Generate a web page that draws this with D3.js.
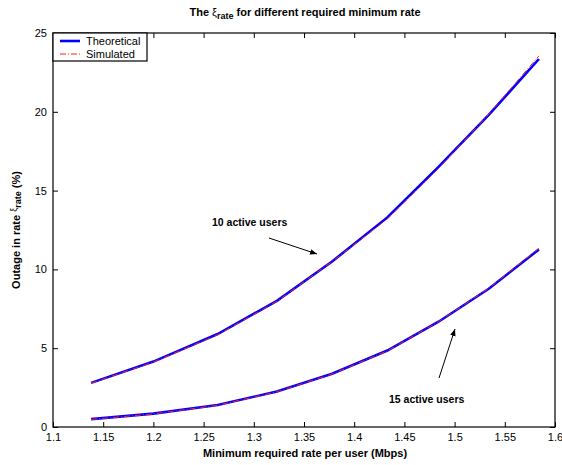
<!DOCTYPE html>
<html><head><meta charset="utf-8">
<script src="https://cdn.jsdelivr.net/npm/d3@7"></script>
<style>body{margin:0;background:#fff;} svg{display:block;font-family:Arial,"Liberation Sans",Helvetica,sans-serif;}</style>
</head><body>
<script>
const rates = [1.138, 1.2, 1.264, 1.323, 1.378, 1.433, 1.484, 1.534, 1.584];
const theo10 = [2.8, 4.15, 5.9, 8.0, 10.5, 13.3, 16.5, 19.8, 23.35];
const sim10  = [2.78, 4.12, 5.85, 7.97, 10.5, 13.2, 16.4, 19.85, 23.55];
const theo15 = [0.5, 0.85, 1.4, 2.25, 3.38, 4.85, 6.68, 8.77, 11.27];
const sim15  = [0.48, 0.83, 1.38, 2.23, 3.36, 4.83, 6.68, 8.8, 11.33];
const xTicks = [1.1, 1.15, 1.2, 1.25, 1.3, 1.35, 1.4, 1.45, 1.5, 1.55, 1.6];
const yTicks = [0, 5, 10, 15, 20, 25];
const legendLabels = ["Theoretical", "Simulated"];
const annotations = ["10 active users", "15 active users"];

const W = 562, H = 465;
const m = {l: 53, r: 7, t: 33, b: 38};
const svg = d3.select("body").append("svg").attr("width", W).attr("height", H);
const x = d3.scaleLinear().domain([1.1, 1.6]).range([m.l, W - m.r]);
const y = d3.scaleLinear().domain([0, 25]).range([H - m.b, m.t]);

// axes with inward ticks
const fmt = d => d3.format("")(+d.toFixed(2));
svg.append("g").attr("transform", `translate(0,${H - m.b})`)
  .call(d3.axisBottom(x).tickValues(xTicks).tickSizeInner(-5).tickSizeOuter(0).tickPadding(6).tickFormat(fmt))
  .call(g => g.selectAll("text").attr("font-size", 11).attr("fill", "#000"));
svg.append("g").attr("transform", `translate(${m.l},0)`)
  .call(d3.axisLeft(y).tickValues(yTicks).tickSizeInner(-5).tickSizeOuter(0).tickPadding(6))
  .call(g => g.selectAll("text").attr("font-size", 11).attr("fill", "#000"));
svg.append("g").attr("transform", `translate(0,${m.t})`)
  .call(d3.axisTop(x).tickValues(xTicks).tickSizeInner(-5).tickSizeOuter(0).tickFormat(""));
svg.append("g").attr("transform", `translate(${W - m.r},0)`)
  .call(d3.axisRight(y).tickValues(yTicks).tickSizeInner(-5).tickSizeOuter(0).tickFormat(""));
svg.selectAll(".domain").attr("stroke", "none");
svg.selectAll(".tick line").attr("stroke", "#000");
svg.append("rect").attr("x", m.l).attr("y", m.t).attr("width", W - m.r - m.l).attr("height", H - m.b - m.t)
  .attr("fill", "none").attr("stroke", "#000").attr("stroke-width", 1.2);

const line = d3.line().x((d, i) => x(rates[i])).y(d => y(d));
[theo10, theo15].forEach(s => svg.append("path").attr("d", line(s)).attr("fill", "none")
  .attr("stroke", "#0000ff").attr("stroke-width", 2.6));
[sim10, sim15].forEach(s => svg.append("path").attr("d", line(s)).attr("fill", "none")
  .attr("stroke", "#ff2020").attr("stroke-width", 1).attr("stroke-dasharray", "6,2,1,2"));

// title
const title = svg.append("text").attr("x", 305).attr("y", 16).attr("text-anchor", "middle")
  .attr("font-size", 11).attr("font-weight", "bold");
title.append("tspan").text("The ");
title.append("tspan").attr("font-weight", "normal").text("ξ");
title.append("tspan").attr("font-size", 9).attr("dy", 3).text("rate");
title.append("tspan").attr("dy", -3).text(" for different required minimum rate");

// x label
svg.append("text").attr("x", 305).attr("y", 457).attr("text-anchor", "middle")
  .attr("font-size", 11).attr("font-weight", "bold").text("Minimum required rate per user (Mbps)");
// y label
const yl = svg.append("text").attr("transform", `translate(20,${(m.t + H - m.b) / 2}) rotate(-90)`)
  .attr("text-anchor", "middle").attr("font-size", 11).attr("font-weight", "bold");
yl.append("tspan").text("Outage in rate ");
yl.append("tspan").attr("font-weight", "normal").attr("font-size", 9).attr("dy", -3).text("ξ");
yl.append("tspan").attr("font-size", 9).attr("dy", 4).text("rate");
yl.append("tspan").attr("dy", -1).text(" (%)");

// legend
const lg = svg.append("g");
lg.append("rect").attr("x", m.l).attr("y", m.t).attr("width", 94).attr("height", 28)
  .attr("fill", "#fff").attr("stroke", "#000").attr("stroke-width", 1.2);
lg.append("line").attr("x1", 60).attr("x2", 80).attr("y1", 41).attr("y2", 41)
  .attr("stroke", "#0000ff").attr("stroke-width", 2.6);
lg.append("line").attr("x1", 60).attr("x2", 80).attr("y1", 54).attr("y2", 54)
  .attr("stroke", "#ff2020").attr("stroke-width", 1).attr("stroke-dasharray", "6,2,1,2");
legendLabels.forEach((t, i) => lg.append("text").attr("x", 86).attr("y", 45 + i * 13)
  .attr("font-size", 11).text(t));

// annotations
svg.append("defs").append("marker").attr("id", "ah").attr("viewBox", "0 0 10 10")
  .attr("refX", 10).attr("refY", 5).attr("markerWidth", 7).attr("markerHeight", 7)
  .attr("orient", "auto").attr("markerUnits", "userSpaceOnUse")
  .append("path").attr("d", "M0,1 L10,5 L0,9 Z").attr("fill", "#000");
svg.append("text").attr("x", 212).attr("y", 226).attr("font-size", 10.5).attr("font-weight", "bold").text(annotations[0]);
svg.append("line").attr("x1", 269).attr("y1", 238).attr("x2", 317).attr("y2", 254)
  .attr("stroke", "#000").attr("stroke-width", 1).attr("marker-end", "url(#ah)");
svg.append("text").attr("x", 389).attr("y", 403).attr("font-size", 10.5).attr("font-weight", "bold").text(annotations[1]);
svg.append("line").attr("x1", 439).attr("y1", 378).attr("x2", 455).attr("y2", 329)
  .attr("stroke", "#000").attr("stroke-width", 1).attr("marker-end", "url(#ah)");
</script>
</body></html>
